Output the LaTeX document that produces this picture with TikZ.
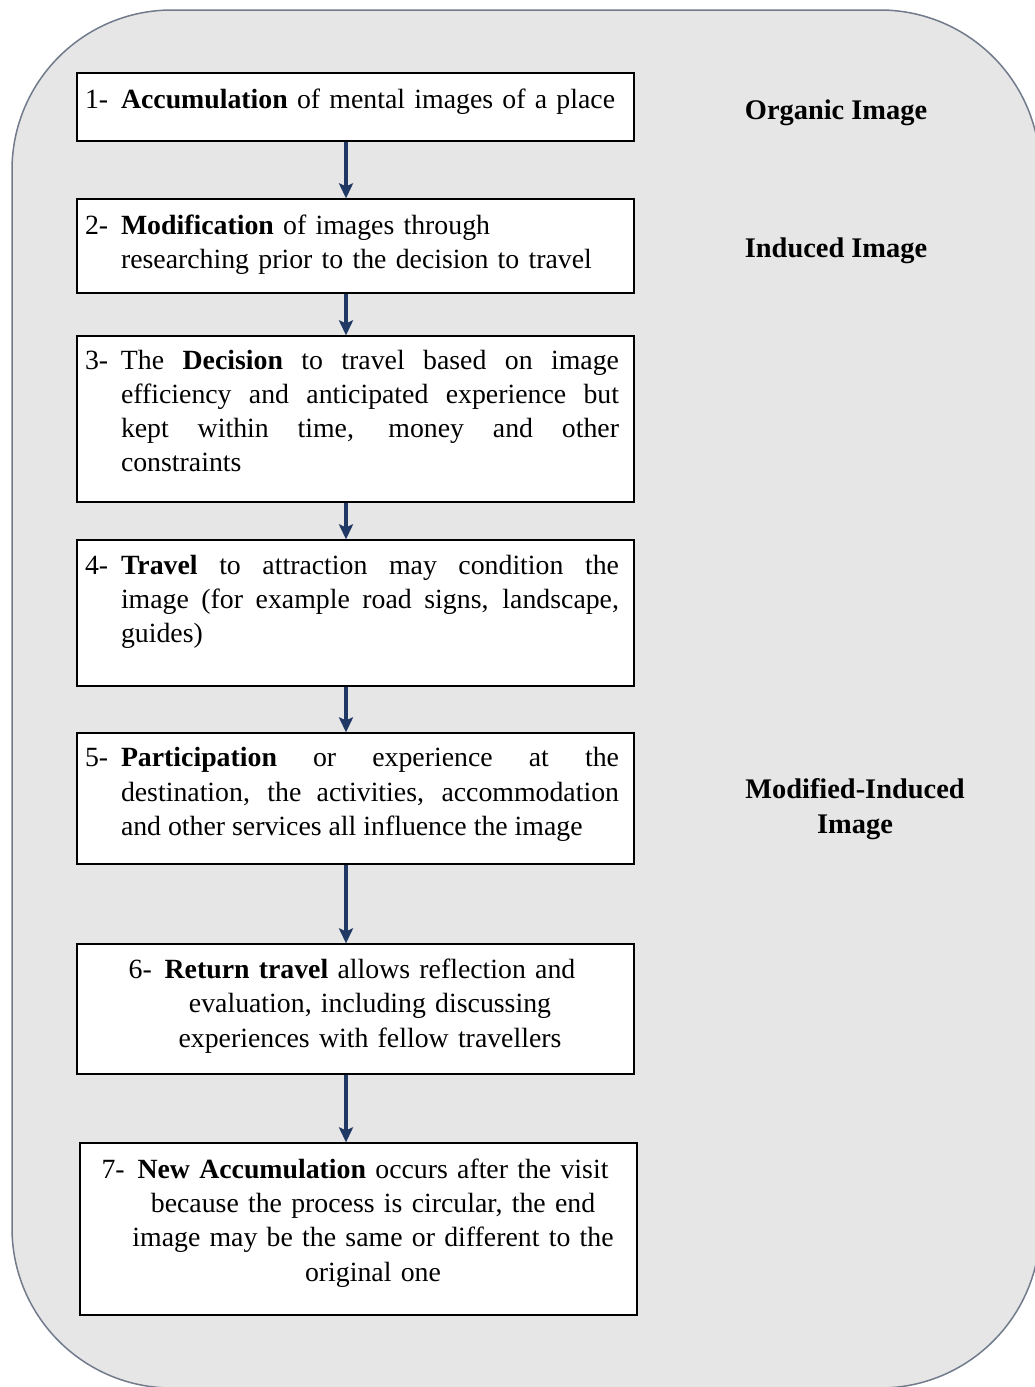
\documentclass[tikz,border=0pt]{standalone}
\usepackage{fontspec}
\setmainfont{Liberation Serif}
\usetikzlibrary{arrows.meta}
\definecolor{arrowblue}{HTML}{1F3864}
\definecolor{panelgray}{HTML}{E7E6E6}
\definecolor{panelline}{HTML}{717B8C}
\tikzstyle{arrow} = [line width=3.3pt, -{Stealth[length=15pt,width=14pt,inset=3pt]}, arrowblue]
\tikzstyle{stage} = [draw, line width=1.3pt, fill=white, text width=541pt, inner xsep=8pt, inner ysep=0pt, font=\fontsize{27.8}{34.3}\selectfont]
\tikzstyle{stagetag} = [font=\fontsize{28.4}{35}\selectfont\bfseries, align=center]
\newcommand{\stepnum}[1]{\noindent\advance\rightskip 7pt\hangindent=36pt\hangafter=1\makebox[36pt][l]{#1}}
\newcommand{\stepend}[1]{\par\kern#1\relax}

\begin{document}
\begin{tikzpicture}[x=1pt, y=-1pt, node distance=139pt]
\useasboundingbox (0,0) rectangle (1034,1387);
\draw [panelline, line width=1.5pt, fill=panelgray, rounded corners=160pt] (12,10) rectangle (1040,1388);

\node (accumulation) [stage, align=left, minimum height=68pt] at (355.5,107) {\stepnum{1-}\textbf{Accumulation} of mental images of a place\stepend{10pt}};
\node (modification) [stage, align=left, minimum height=94pt, below of=accumulation] {\stepnum{2-}\textbf{Modification} of images through\linebreak researching prior to the decision to travel\stepend{2pt}};
\node (decision) [stage, align=justify, minimum height=166pt, node distance=173pt, below of=modification] {\stepnum{3-}The \textbf{Decision} to travel based on image\linebreak efficiency and anticipated experience but\linebreak kept within time, money and other\linebreak constraints\stepend{16pt}};
\node (travel) [stage, align=justify, minimum height=146pt, node distance=194pt, below of=decision] {\stepnum{4-}\textbf{Travel} to attraction may condition the\linebreak image (for example road signs, landscape,\linebreak guides)\stepend{22pt}};
\node (participation) [stage, align=justify, minimum height=131pt, node distance=185.5pt, below of=travel] {\stepnum{5-}\textbf{Participation} or experience at the\linebreak destination, the activities, accommodation\linebreak and other services all influence the image\stepend{8pt}};
\node (return) [stage, align=center, minimum height=130pt, node distance=210.5pt, below of=participation] {\stepnum{6-}\textbf{Return travel} allows reflection and\linebreak evaluation, including discussing\linebreak experiences with fellow travellers\stepend{6pt}};
\node (newaccumulation) [stage, align=center, minimum height=172pt, node distance=220pt, below of=return, xshift=3pt] {\stepnum{7-}\textbf{New Accumulation} occurs after the visit\linebreak because the process is circular, the end\linebreak image may be the same or different to the\linebreak original one\stepend{12pt}};

\node (organic) [stagetag] at (836,113) {Organic Image};
\node (induced) [stagetag] at (836,251) {Induced Image};
\node (modified) [stagetag] at (855,809) {Modified-Induced\\Image};

\draw [arrow] ([xshift=-9.5pt]accumulation.south) -- ([xshift=-9.5pt]modification.north);
\draw [arrow] ([xshift=-9.5pt]modification.south) -- ([xshift=-9.5pt]decision.north);
\draw [arrow] ([xshift=-9.5pt]decision.south) -- ([xshift=-9.5pt]travel.north);
\draw [arrow] ([xshift=-9.5pt]travel.south) -- ([xshift=-9.5pt]participation.north);
\draw [arrow] ([xshift=-9.5pt]participation.south) -- ([xshift=-9.5pt]return.north);
\draw [arrow] ([xshift=-9.5pt]return.south) -- ([xshift=-12.5pt]newaccumulation.north);

\end{tikzpicture}
\end{document}
